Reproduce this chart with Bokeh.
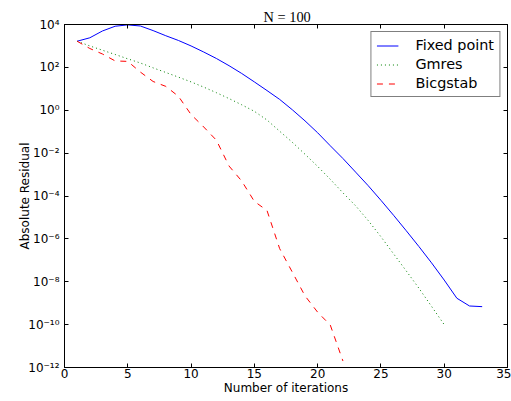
from bokeh.plotting import figure
from bokeh.models import (Range1d, FixedTicker, LinearAxis, LogAxis,
                          CustomJSTickFormatter, Legend, LegendItem)
from bokeh.embed import file_html
from bokeh.resources import INLINE

# ---- data ----
iter_fixed = list(range(1, 34))
res_fixed = [1.66e3, 2.4e3, 5.0e3, 8.3e3, 9.6e3, 8.5e3, 5.2e3, 3.0e3, 1.8e3, 1.0e3,
             5.2e2, 2.6e2, 1.2e2, 5.2e1, 2.1e1, 8.3, 3.2, 1.05, 3.2e-1, 8.9e-2,
             2.2e-2, 5.6e-3, 1.3e-3, 3.0e-4, 6.3e-5, 1.26e-5, 2.4e-6, 4.4e-7,
             7.6e-8, 1.2e-8, 1.7e-9, 7.4e-10, 6.9e-10]

iter_gmres = list(range(1, 31))
res_gmres = [1.66e3, 1.0e3, 6.3e2, 4.0e2, 2.5e2, 1.6e2, 9.5e1, 5.8e1, 3.5e1, 2.1e1,
             1.2e1, 6.6, 3.5, 1.8, 8.9e-1, 3.5e-1, 1.05e-1, 3.2e-2, 8.9e-3, 2.4e-3,
             6.0e-4, 1.4e-4, 3.5e-5, 7.1e-6, 1.26e-6, 2.0e-7, 3.2e-8, 5.0e-9,
             7.1e-10, 1.0e-10]

iter_bicg = list(range(1, 23))
res_bicg = [1.66e3, 7.6e2, 4.2e2, 2.0e2, 1.9e2, 6.0e1, 2.2e1, 1.3e1, 4.5, 6.3e-1,
            1.66e-1, 4.0e-2, 2.5e-3, 5.0e-4, 5.6e-5, 2.1e-5, 3.5e-7, 2.8e-8,
            2.2e-9, 3.8e-10, 9.5e-11, 2.0e-12]

x_ticks = [0, 5, 10, 15, 20, 25, 30, 35]
y_ticks = [1e-12, 1e-10, 1e-8, 1e-6, 1e-4, 1e-2, 1e0, 1e2, 1e4]

series_labels = ["Fixed point", "Gmres", "Bicgstab"]
title_text = "N = 100"
x_label = "Number of iterations"
y_label = "Absolute Residual"

FONT = "DejaVu Sans"

p = figure(width=511, height=401,
           x_range=Range1d(0, 35), y_range=Range1d(1e-12, 1e4),
           y_axis_type="log", output_backend="svg", toolbar_location=None,
           min_border_left=64, min_border_right=4, min_border_top=24,
           min_border_bottom=34)
p.background_fill_color = "white"
p.border_fill_color = "white"
p.outline_line_color = "black"
p.outline_line_width = 1
p.xgrid.grid_line_color = None
p.ygrid.grid_line_color = None

sup_code = """
const sup = {"0":"\\u2070","1":"\\u00b9","2":"\\u00b2","3":"\\u00b3","4":"\\u2074",
             "5":"\\u2075","6":"\\u2076","7":"\\u2077","8":"\\u2078","9":"\\u2079",
             "-":"\\u207b"};
const e = Math.round(Math.log10(tick));
return "10" + String(e).split("").map(c => sup[c]).join("");
"""


def style_axis(ax):
    ax.axis_line_color = "black"
    ax.axis_line_width = 1
    ax.major_tick_in = 4
    ax.major_tick_out = 0
    ax.major_tick_line_color = "black"
    ax.minor_tick_line_color = None
    ax.minor_tick_in = 0
    ax.minor_tick_out = 0
    ax.major_label_text_font = FONT
    ax.major_label_text_font_size = "12px"
    ax.major_label_text_color = "black"
    ax.axis_label_text_font = FONT
    ax.axis_label_text_font_size = "12px"
    ax.axis_label_text_font_style = "normal"
    ax.axis_label_text_color = "black"


xa = p.xaxis[0]
ya = p.yaxis[0]
style_axis(xa)
style_axis(ya)
xa.ticker = FixedTicker(ticks=x_ticks)
ya.ticker = FixedTicker(ticks=y_ticks)
ya.formatter = CustomJSTickFormatter(code=sup_code)
xa.axis_label = x_label
ya.axis_label = y_label
xa.major_label_standoff = 1
xa.axis_label_standoff = 0
ya.major_label_standoff = 5
ya.axis_label_standoff = -7

top = LinearAxis(ticker=FixedTicker(ticks=x_ticks),
                 formatter=CustomJSTickFormatter(code="return ''"))
style_axis(top)
top.major_label_text_font_size = "1px"
top.major_label_standoff = 0
p.add_layout(top, "above")

right = LogAxis(ticker=FixedTicker(ticks=y_ticks),
                formatter=CustomJSTickFormatter(code="return ''"))
style_axis(right)
right.major_label_text_font_size = "1px"
right.major_label_standoff = 0
p.add_layout(right, "right")

r1 = p.line(iter_fixed, res_fixed, line_color="#0000ff", line_width=1)
r2 = p.line(iter_gmres, res_gmres, line_color="#008000", line_width=1,
            line_dash="1 3")
r3 = p.line(iter_bicg, res_bicg, line_color="#ff0000", line_width=1,
            line_dash="6 6")

legend = Legend(items=[LegendItem(label=series_labels[0], renderers=[r1]),
                       LegendItem(label=series_labels[1], renderers=[r2]),
                       LegendItem(label=series_labels[2], renderers=[r3])],
                location="top_right", margin=7, padding=5, spacing=3,
                glyph_width=22, glyph_height=7, label_height=7,
                label_standoff=17,
                label_text_font=FONT, label_text_font_size="14.4px",
                label_text_color="black",
                border_line_color="black", border_line_width=1,
                background_fill_color="white", background_fill_alpha=1.0)
p.add_layout(legend)

p.title.text = title_text
p.title.align = "left"
p.title.offset = 199
p.title.standoff = 0
p.title.text_font = "Liberation Serif"
p.title.text_font_size = "14.4px"
p.title.text_font_style = "normal"
p.title.text_color = "black"

open("out.html", "w").write(file_html(p, INLINE))
